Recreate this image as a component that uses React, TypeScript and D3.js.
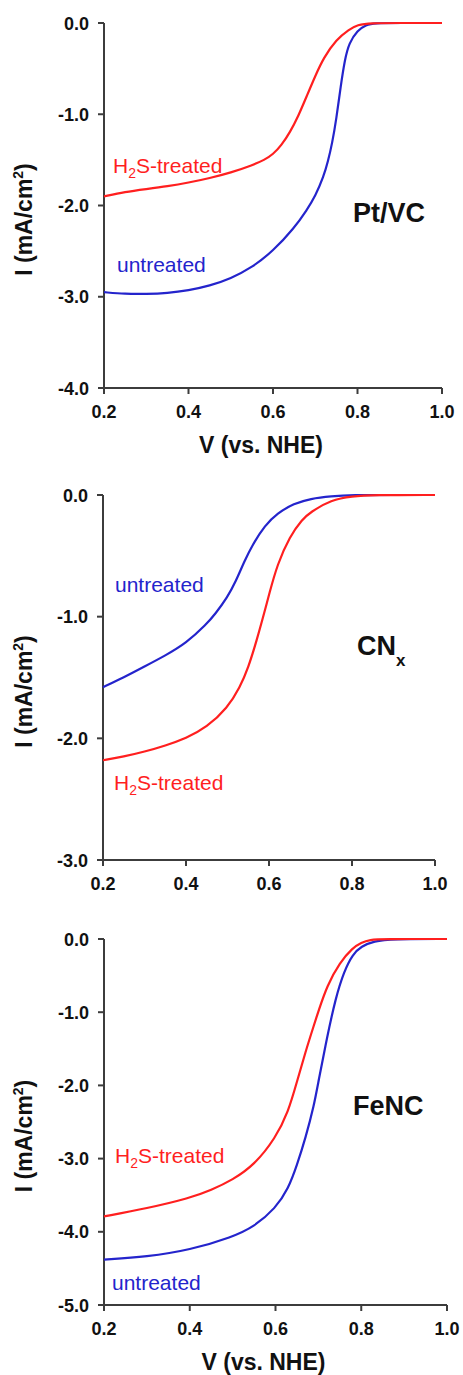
import React from "react";
import * as d3 from "d3";

// Rotating-disk polarization curves (V vs. NHE, current density in mA/cm²)
type Pt = [number, number];

const voltageTicks = [0.2, 0.4, 0.6, 0.8, 1.0];

const ptvcTreated: Pt[] = [
  [0.2, -1.9], [0.25, -1.85], [0.3, -1.82], [0.35, -1.79], [0.4, -1.75], [0.45, -1.7],
  [0.5, -1.64], [0.55, -1.56], [0.58, -1.5], [0.6, -1.44], [0.62, -1.34], [0.64, -1.2],
  [0.66, -1.02], [0.68, -0.8], [0.7, -0.58], [0.72, -0.38], [0.75, -0.18], [0.78, -0.07],
  [0.8, -0.02], [0.83, 0], [0.9, 0], [1.0, 0],
];
const ptvcUntreated: Pt[] = [
  [0.2, -2.95], [0.25, -2.97], [0.3, -2.97], [0.35, -2.96], [0.4, -2.93], [0.45, -2.88],
  [0.5, -2.8], [0.55, -2.68], [0.6, -2.5], [0.65, -2.25], [0.68, -2.05], [0.7, -1.9],
  [0.72, -1.68], [0.73, -1.52], [0.74, -1.32], [0.75, -1.05], [0.76, -0.7], [0.77, -0.4],
  [0.78, -0.22], [0.8, -0.08], [0.82, -0.02], [0.84, 0], [0.9, 0], [1.0, 0],
];

const cnxUntreated: Pt[] = [
  [0.2, -1.58], [0.25, -1.5], [0.3, -1.41], [0.35, -1.32], [0.4, -1.22], [0.45, -1.06],
  [0.47, -0.98], [0.5, -0.84], [0.52, -0.71], [0.54, -0.55], [0.56, -0.41], [0.59, -0.25],
  [0.62, -0.15], [0.66, -0.07], [0.7, -0.03], [0.75, -0.01], [0.8, 0], [0.9, 0], [1.0, 0],
];
const cnxTreated: Pt[] = [
  [0.2, -2.18], [0.25, -2.15], [0.3, -2.11], [0.35, -2.06], [0.4, -2.0], [0.45, -1.91],
  [0.5, -1.75], [0.53, -1.58], [0.55, -1.42], [0.57, -1.2], [0.59, -0.95], [0.6, -0.82],
  [0.62, -0.57], [0.65, -0.34], [0.68, -0.2], [0.7, -0.14], [0.75, -0.04], [0.8, -0.01],
  [0.85, 0], [1.0, 0],
];

const fencTreated: Pt[] = [
  [0.2, -3.79], [0.3, -3.68], [0.4, -3.54], [0.45, -3.43], [0.5, -3.29], [0.55, -3.09],
  [0.6, -2.72], [0.63, -2.36], [0.65, -1.95], [0.67, -1.54], [0.69, -1.17], [0.7, -0.99],
  [0.72, -0.64], [0.75, -0.32], [0.78, -0.12], [0.8, -0.05], [0.82, -0.01], [0.85, 0],
  [1.0, 0],
];
const fencUntreated: Pt[] = [
  [0.2, -4.38], [0.3, -4.34], [0.4, -4.25], [0.5, -4.07], [0.55, -3.93], [0.6, -3.68],
  [0.63, -3.41], [0.65, -3.09], [0.67, -2.72], [0.69, -2.27], [0.7, -1.95], [0.72, -1.35],
  [0.74, -0.81], [0.76, -0.44], [0.78, -0.21], [0.8, -0.1], [0.83, -0.03], [0.87, 0],
  [1.0, 0],
];

const RED = "#ff1f1f";
const BLUE = "#2424cc";
const AXIS = "#3c3c3c";
const FONT = "'Liberation Sans', Arial, sans-serif";

type Label = { x: number; y: number };

interface PanelProps {
  left: number;
  right: number;
  top: number;
  bottom: number;
  yMin: number;
  treated: Pt[];
  untreated: Pt[];
  treatedLabel: Label;
  untreatedLabel: Label;
  name: React.ReactNode;
  nameAt: Label;
  showXTitle: boolean;
}

function Panel(p: PanelProps) {
  const x = d3.scaleLinear().domain([0.2, 1.0]).range([p.left, p.right]);
  const y = d3.scaleLinear().domain([p.yMin, 0]).range([p.bottom, p.top]);
  const line = d3
    .line<Pt>()
    .x((d) => x(d[0]))
    .y((d) => y(d[1]))
    .curve(d3.curveBasis);
  const yTicks = d3.range(0, p.yMin - 0.5, -1);
  const midY = (p.top + p.bottom) / 2;
  const midX = (p.left + p.right) / 2;

  return (
    <g fontFamily={FONT}>
      {/* axes */}
      <line x1={p.left} x2={p.left} y1={p.top} y2={p.bottom} stroke={AXIS} strokeWidth={2} />
      <line x1={p.left} x2={p.right} y1={p.bottom} y2={p.bottom} stroke={AXIS} strokeWidth={2} />
      {yTicks.map((t) => (
        <g key={"y" + t}>
          <line x1={p.left - 6} x2={p.left} y1={y(t)} y2={y(t)} stroke={AXIS} strokeWidth={2} />
          <text
            x={p.left - 15}
            y={y(t) + 6.5}
            textAnchor="end"
            fontSize={18}
            fontWeight="bold"
            fill="#111"
          >
            {t.toFixed(1) === "-0.0" ? "0.0" : t.toFixed(1)}
          </text>
        </g>
      ))}
      {voltageTicks.map((t) => (
        <g key={"x" + t}>
          <line x1={x(t)} x2={x(t)} y1={p.bottom} y2={p.bottom + 6} stroke={AXIS} strokeWidth={2} />
          <text
            x={x(t)}
            y={p.bottom + 30}
            textAnchor="middle"
            fontSize={18}
            fontWeight="bold"
            fill="#111"
          >
            {t.toFixed(1)}
          </text>
        </g>
      ))}
      {/* axis titles */}
      <text
        transform={`translate(32,${midY + 14}) rotate(-90)`}
        textAnchor="middle"
        fontSize={23}
        fontWeight="bold"
        fill="#111"
      >
        I (mA/cm
        <tspan fontSize={14} dy={-9}>2</tspan>
        <tspan dy={9}>)</tspan>
      </text>
      {p.showXTitle && (
        <text
          x={midX - 12}
          y={p.bottom + 65}
          textAnchor="middle"
          fontSize={23}
          fontWeight="bold"
          fill="#111"
        >
          V (vs. NHE)
        </text>
      )}
      {/* curves */}
      <path d={line(p.untreated) || ""} fill="none" stroke={BLUE} strokeWidth={2.2} />
      <path d={line(p.treated) || ""} fill="none" stroke={RED} strokeWidth={2.2} />
      {/* curve labels */}
      <text x={p.treatedLabel.x} y={p.treatedLabel.y} fontSize={21} fill={RED}>
        H<tspan fontSize={14} dy={5}>2</tspan>
        <tspan dy={-5}>S-treated</tspan>
      </text>
      <text x={p.untreatedLabel.x} y={p.untreatedLabel.y} fontSize={21} fill={BLUE}>
        untreated
      </text>
      <text x={p.nameAt.x} y={p.nameAt.y} fontSize={27} fontWeight="bold" fill="#111">
        {p.name}
      </text>
    </g>
  );
}

export default function App() {
  return (
    <svg
      width={463}
      height={1375}
      style={{ position: "absolute", left: 0, top: 0, background: "#fff" }}
    >
      <Panel
        left={104}
        right={442}
        top={23}
        bottom={388}
        yMin={-4}
        treated={ptvcTreated}
        untreated={ptvcUntreated}
        treatedLabel={{ x: 113, y: 173 }}
        untreatedLabel={{ x: 117, y: 272 }}
        name="Pt/VC"
        nameAt={{ x: 353, y: 222 }}
        showXTitle={true}
      />
      <Panel
        left={103}
        right={435}
        top={495}
        bottom={860}
        yMin={-3}
        treated={cnxTreated}
        untreated={cnxUntreated}
        treatedLabel={{ x: 114, y: 790 }}
        untreatedLabel={{ x: 115, y: 592 }}
        name={
          <>
            CN<tspan fontSize={17} dy={11}>x</tspan>
          </>
        }
        nameAt={{ x: 357, y: 655 }}
        showXTitle={false}
      />
      <Panel
        left={104}
        right={447}
        top={939}
        bottom={1305}
        yMin={-5}
        treated={fencTreated}
        untreated={fencUntreated}
        treatedLabel={{ x: 115, y: 1163 }}
        untreatedLabel={{ x: 112, y: 1290 }}
        name="FeNC"
        nameAt={{ x: 353, y: 1115 }}
        showXTitle={true}
      />
    </svg>
  );
}
